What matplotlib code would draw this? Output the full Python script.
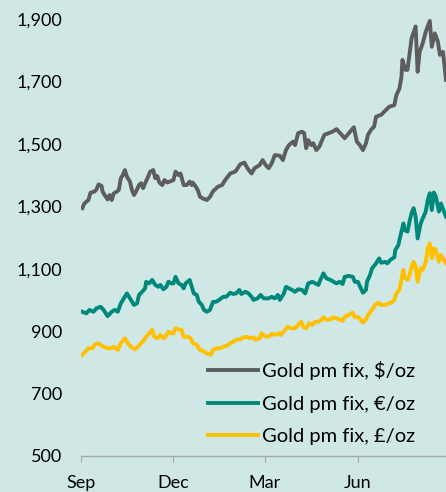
import matplotlib
import numpy as np

matplotlib.use("Agg")
import matplotlib.pyplot as plt  # noqa: E402

# day offsets from 1 Sep 2010, price per troy ounce
usd_days = [1, 3, 7, 9, 13, 15, 17, 20, 21, 24, 26, 28, 30, 32, 35, 37, 39, 41, 43, 45,
            48, 50, 52, 54, 57, 59, 61, 63, 66, 68, 71, 73, 75, 77, 80, 82, 85, 87, 91, 93,
            96, 98, 101, 104, 107, 109, 110, 113, 115, 117, 120, 124, 127, 130, 135, 139, 142, 147, 152, 157,
            161, 164, 168, 171, 176, 179, 182, 185, 188, 191, 196, 199, 202, 205, 209, 211, 214, 218, 220, 222,
            224, 227, 229, 232, 235, 237, 240, 244, 248, 252, 257, 260, 264, 269, 272, 275, 278, 281, 283, 286,
            289, 291, 296, 299, 304, 309, 311, 314, 316, 317, 320, 322, 326, 330, 332, 334, 337, 340, 344, 346,
            349, 352, 354, 357, 360]
usd = [1294, 1309, 1320, 1343, 1347, 1354, 1370, 1365, 1347, 1331, 1322, 1336, 1320, 1341, 1347, 1352, 1390, 1400, 1416, 1395,
       1379, 1352, 1336, 1347, 1368, 1374, 1358, 1374, 1395, 1411, 1416, 1390, 1397, 1376, 1368, 1384, 1376, 1379, 1384, 1411,
       1400, 1405, 1368, 1368, 1379, 1368, 1376, 1363, 1352, 1331, 1325, 1320, 1330, 1348, 1363, 1368, 1384, 1405, 1411, 1435,
       1440, 1422, 1405, 1422, 1432, 1448, 1432, 1422, 1438, 1464, 1462, 1448, 1480, 1496, 1507, 1496, 1534, 1539, 1534, 1486,
       1512, 1496, 1502, 1480, 1491, 1507, 1529, 1534, 1539, 1547, 1529, 1518, 1534, 1553, 1507, 1496, 1480, 1502, 1529, 1545,
       1555, 1587, 1593, 1603, 1619, 1624, 1656, 1677, 1714, 1769, 1737, 1737, 1838, 1876, 1731, 1795, 1822, 1859, 1894, 1811,
       1854, 1827, 1785, 1795, 1705]

eur_days = [1, 5, 8, 12, 15, 19, 22, 26, 30, 33, 36, 39, 42, 45, 49, 52, 55, 57, 60, 63,
            64, 67, 70, 73, 76, 78, 81, 84, 86, 89, 91, 93, 96, 99, 101, 103, 107, 109, 111, 114,
            116, 119, 121, 124, 127, 130, 133, 136, 140, 143, 147, 150, 153, 156, 158, 162, 165, 168, 170, 174,
            177, 180, 182, 185, 188, 191, 194, 196, 200, 202, 205, 208, 211, 214, 218, 221, 224, 228, 231, 234,
            236, 239, 242, 246, 249, 252, 255, 258, 260, 264, 268, 270, 273, 276, 278, 281, 282, 285, 287, 291,
            294, 296, 300, 302, 305, 309, 310, 313, 314, 316, 318, 319, 322, 324, 326, 328, 330, 332, 335, 337,
            340, 342, 344, 346, 348, 350, 353, 355, 358, 360]
eur = [962, 957, 968, 962, 973, 978, 968, 948, 962, 968, 962, 989, 1005, 1021, 1000, 984, 989, 1016, 1026, 1037,
       1058, 1053, 1064, 1048, 1042, 1048, 1034, 1042, 1058, 1053, 1053, 1074, 1053, 1048, 1037, 1053, 1064, 1042, 1021, 1016,
       994, 984, 968, 962, 968, 994, 994, 1000, 1010, 1010, 1023, 1019, 1021, 1032, 1019, 1026, 1021, 1010, 1000, 1005,
       1016, 1005, 1005, 1005, 1010, 1005, 1016, 1000, 1021, 1042, 1037, 1032, 1026, 1034, 1032, 1021, 1053, 1058, 1053, 1048,
       1064, 1085, 1069, 1064, 1058, 1053, 1058, 1051, 1074, 1077, 1074, 1058, 1058, 1037, 1023, 1032, 1058, 1080, 1101, 1117,
       1133, 1119, 1122, 1117, 1128, 1137, 1160, 1176, 1192, 1219, 1245, 1224, 1219, 1251, 1278, 1294, 1267, 1197, 1245, 1261,
       1283, 1320, 1342, 1288, 1344, 1331, 1283, 1309, 1283, 1267]

gbp_days = [1, 4, 7, 11, 13, 16, 19, 22, 26, 29, 32, 36, 39, 43, 46, 49, 53, 56, 59, 62,
            64, 67, 70, 72, 75, 78, 81, 83, 86, 89, 91, 93, 97, 99, 101, 105, 108, 110, 114, 117,
            120, 124, 128, 130, 134, 137, 140, 143, 147, 150, 153, 157, 160, 163, 166, 170, 172, 176, 178, 181,
            185, 188, 191, 195, 197, 201, 204, 207, 211, 214, 217, 219, 222, 225, 228, 231, 234, 237, 239, 242,
            246, 249, 252, 256, 258, 260, 264, 268, 270, 272, 275, 278, 281, 283, 287, 290, 293, 296, 300, 303,
            306, 309, 311, 314, 316, 318, 319, 322, 324, 326, 328, 330, 332, 335, 337, 340, 342, 344, 346, 348,
            350, 353, 355, 358, 360]
gbp = [824, 834, 845, 845, 856, 861, 856, 850, 845, 845, 850, 840, 861, 877, 861, 850, 842, 850, 861, 872,
       882, 893, 904, 882, 877, 888, 877, 882, 898, 893, 893, 909, 904, 904, 882, 882, 877, 861, 856, 840,
       837, 829, 824, 840, 845, 845, 850, 852, 861, 866, 872, 874, 880, 882, 877, 880, 872, 877, 893, 884,
       882, 891, 888, 893, 888, 904, 914, 909, 909, 920, 930, 914, 909, 925, 920, 930, 930, 936, 944, 936,
       938, 944, 941, 936, 933, 946, 952, 959, 944, 946, 941, 927, 938, 952, 968, 984, 991, 984, 984, 989,
       991, 1000, 1021, 1032, 1064, 1096, 1074, 1064, 1080, 1106, 1122, 1106, 1058, 1101, 1096, 1122, 1165, 1181, 1133, 1165,
       1160, 1122, 1144, 1128, 1117]

labels = ["Gold pm fix, $/oz", "Gold pm fix, €/oz", "Gold pm fix, £/oz"]
colors = ["#5d5d5d", "#00897b", "#ffc000"]
tick_dates = ["2010-09-01", "2010-12-01", "2011-03-01", "2011-06-01"]
tick_labels = ["Sep", "Dec", "Mar", "Jun"]
y_ticks = [500, 700, 900, 1100, 1300, 1500, 1700, 1900]

start = np.datetime64("2010-09-01")
bg = "#cfe8e5"

plt.rcParams["font.family"] = ["Lato", "DejaVu Sans"]
fig = plt.figure(figsize=(4.46, 4.92), dpi=100, facecolor=bg)
ax = fig.add_axes([0.1823, 0.0732, 0.8177, 0.8882], facecolor=bg)

for days, vals, lab, c in zip([usd_days, eur_days, gbp_days], [usd, eur, gbp], labels, colors):
    ax.plot(start + np.array(days), vals, color=c, lw=2.8, label=lab, solid_joinstyle="round")

ax.set_ylim(500, 1900)
ax.set_xlim(start, start + 360)
ax.set_yticks(y_ticks, [f"{v:,}" for v in y_ticks])
ax.set_xticks([np.datetime64(d) for d in tick_dates], tick_labels)
for s in ["top", "right", "left"]:
    ax.spines[s].set_visible(False)
ax.spines["bottom"].set_color("#a6a6a6")
ax.spines["bottom"].set_linewidth(1.0)
ax.tick_params(axis="y", length=0, pad=13.5, labelsize=13)
ax.tick_params(axis="x", length=4, color="#a6a6a6", pad=9.5, labelsize=13)

ax.legend(loc="center left", bbox_to_anchor=(0.347, 0.121), frameon=False, fontsize=14.5,
          handlelength=2.49, handletextpad=0.2, labelspacing=0.76, borderpad=0, borderaxespad=0)

fig.savefig("out.png", dpi=100, facecolor=bg)
